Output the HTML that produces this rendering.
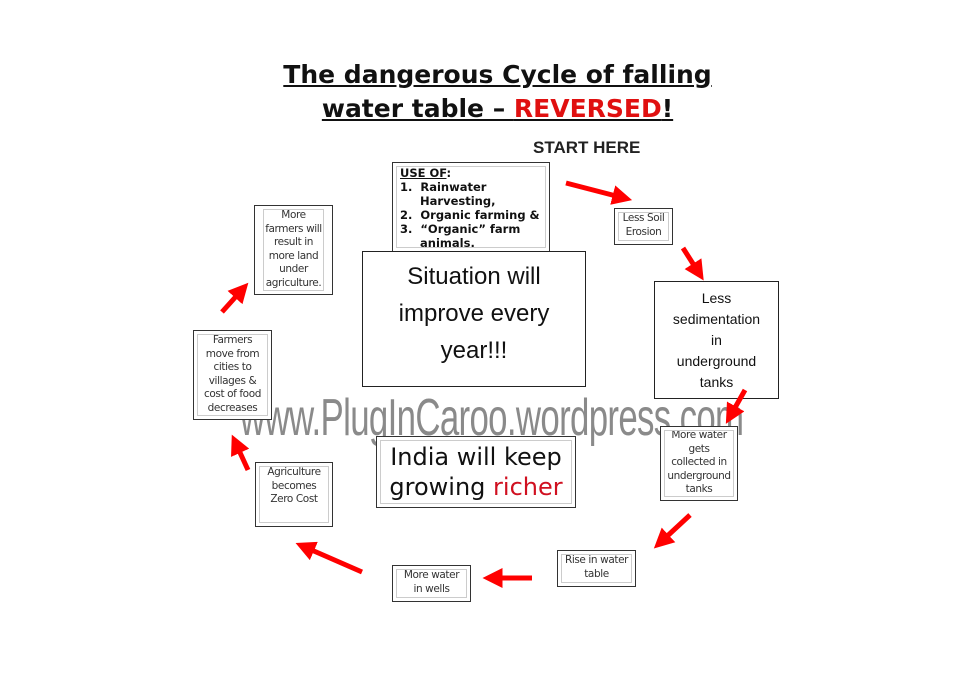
<!DOCTYPE html>
<html><head><style>
body{margin:0;width:960px;height:678px;background:#fff;position:relative;overflow:hidden;font-family:"Liberation Sans","DejaVu Sans",sans-serif}
.a{position:absolute}
.box{position:absolute;border:1.5px solid #333;background:#fff;box-sizing:border-box;text-align:center;color:#333;font-family:"DejaVu Sans",sans-serif;font-size:10.5px;line-height:13.5px;letter-spacing:-0.4px;white-space:nowrap}
.box .in{position:absolute;inset:3px;border:1px solid #ccc}
</style></head><body>
<div class="a" style="left:0;width:995px;top:58px;text-align:center;font-family:'DejaVu Sans',sans-serif;font-weight:bold;font-size:25px;line-height:34px;text-decoration:underline;color:#111">The dangerous Cycle of falling<br>water table – <span style="color:#e01010">REVERSED</span>!</div>
<div class="a" style="left:533px;top:138px;font-weight:bold;font-size:17px;color:#222">START HERE</div>

<div class="a" style="left:240px;top:388px;font-size:52px;color:#8a8a8a;transform:scaleX(0.67);transform-origin:left top;white-space:nowrap;letter-spacing:-1px">www.PlugInCaroo.wordpress.com</div>

<div class="box" style="left:392px;top:162px;width:158px;height:90px;text-align:left;font-weight:bold;font-size:11.5px;line-height:14px;color:#111;padding:3px 0 0 7px;letter-spacing:0"><div class="in"></div><u>USE OF</u>:<br>1.&nbsp; Rainwater<br>&nbsp;&nbsp;&nbsp;&nbsp;&nbsp;Harvesting,<br>2.&nbsp; Organic farming &amp;<br>3.&nbsp; “Organic” farm<br>&nbsp;&nbsp;&nbsp;&nbsp;&nbsp;animals.</div>
<div class="box" style="left:362px;top:251px;width:224px;height:136px;border:1px solid #222;font-family:'Liberation Sans',sans-serif;font-size:24px;line-height:37px;color:#111;padding-top:6px;letter-spacing:0">Situation will<br>improve every<br>year!!!</div>

<div class="box" style="left:254px;top:205px;width:79px;height:90px;padding-top:3px"><div class="in" style="left:8px;right:8px"></div>More<br>farmers will<br>result in<br>more land<br>under<br>agriculture.</div>
<div class="box" style="left:193px;top:330px;width:79px;height:90px;padding-top:3px"><div class="in"></div>Farmers<br>move from<br>cities to<br>villages &amp;<br>cost of food<br>decreases</div>
<div class="box" style="left:255px;top:462px;width:78px;height:65px;padding-top:3px"><div class="in"></div>Agriculture<br>becomes<br>Zero Cost</div>
<div class="box" style="left:392px;top:565px;width:79px;height:37px;padding-top:3px"><div class="in"></div>More water<br>in wells</div>
<div class="box" style="left:557px;top:550px;width:79px;height:37px;padding-top:3px"><div class="in"></div>Rise in water<br>table</div>
<div class="box" style="left:660px;top:426px;width:78px;height:75px;padding-top:2px"><div class="in"></div>More water<br>gets<br>collected in<br>underground<br>tanks</div>
<div class="box" style="left:614px;top:208px;width:59px;height:37px;padding-top:3px"><div class="in"></div>Less Soil<br>Erosion</div>
<div class="box" style="left:654px;top:281px;width:125px;height:118px;border:1px solid #222;font-family:'Liberation Sans',sans-serif;font-size:14px;line-height:21px;color:#111;padding-top:6px;letter-spacing:0">Less<br>sedimentation<br>in<br>underground<br>tanks</div>
<div class="box" style="left:376px;top:436px;width:200px;height:72px;font-size:24px;line-height:30px;color:#111;padding-top:5px;letter-spacing:0"><div class="in"></div>India will keep<br>growing <span style="color:#d01020">richer</span></div>

<svg class="a" style="left:0;top:0" width="960" height="678">
<defs><marker id="m" markerWidth="4" markerHeight="4" refX="1.5" refY="2" orient="auto"><path d="M0,0L4,2L0,4z" fill="#f00"/></marker></defs>
<g stroke="#f00" stroke-width="5" marker-end="url(#m)" fill="none">
<line x1="566" y1="183" x2="620" y2="197"/>
<line x1="683" y1="248" x2="697" y2="270"/>
<line x1="745" y1="390" x2="732" y2="413"/>
<line x1="690" y1="515" x2="663" y2="540"/>
<line x1="532" y1="578" x2="495" y2="578"/>
<line x1="362" y1="572" x2="307" y2="548"/>
<line x1="248" y1="470" x2="237" y2="446"/>
<line x1="222" y1="312" x2="240" y2="292"/>
</g></svg>
</body></html>
